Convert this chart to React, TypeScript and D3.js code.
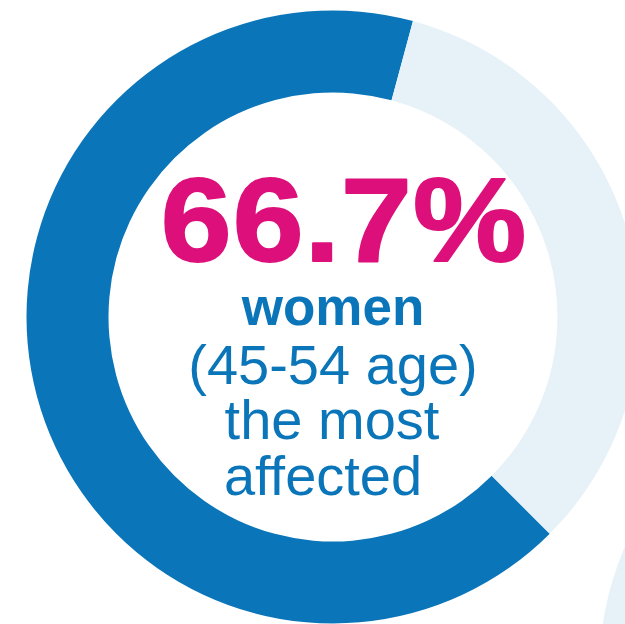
import React from "react";
import * as d3 from "d3";

const categories = ["women (45-54 age)", "others"];
const values = [66.7, 33.3];
const neighbourValues = [100];
const headline = "66.7%";
const lines = ["women", "(45-54 age)", "the most", "affected"];

const W = 625;
const H = 624;
const BLUE = "#0A75B9";
const LIGHT = "#E6F1F8";
const PINK = "#DD107B";

export default function App() {
  const cx = 333;
  const cy = 317;
  const outerR = 306.5;
  const innerR = 224.5;
  const start = (135 * Math.PI) / 180;

  const pie = d3
    .pie<number>()
    .sort(null)
    .value((d) => d)
    .startAngle(start)
    .endAngle(start + 2 * Math.PI);
  const arcs = pie(values);
  const arcGen = d3.arc<d3.PieArcDatum<number>>().innerRadius(innerR).outerRadius(outerR);
  const colors = d3.scaleOrdinal<string, string>().domain(categories).range([BLUE, LIGHT]);

  const neighbourArcs = d3.pie<number>().sort(null)(neighbourValues);

  const font = "'Liberation Sans', Arial, Helvetica, sans-serif";
  const lineX = [333, 333, 332, 323];
  const lineY = [325, 384, 438.5, 494.5];

  return (
    <svg width={W} height={H} style={{ position: "absolute", left: 0, top: 0 }}>
      <rect width={W} height={H} fill="#ffffff" />
      <g transform={`translate(906,669)`}>
        {neighbourArcs.map((a, i) => (
          <path key={i} d={arcGen(a) || ""} fill={LIGHT} />
        ))}
      </g>
      <g transform={`translate(${cx},${cy})`}>
        {arcs.map((a, i) => (
          <path key={i} d={arcGen(a) || ""} fill={colors(categories[i])} />
        ))}
      </g>
      <g transform="translate(344,261) scale(1.07,1)">
        <text
          x={0}
          y={0}
          textAnchor="middle"
          fontFamily={font}
          fontWeight="bold"
          fontSize={119}
          letterSpacing={1}
          fill={PINK}
          stroke={PINK}
          strokeWidth={2}
          strokeLinejoin="round"
        >
          {headline}
        </text>
      </g>
      {lines.map((t, i) => (
        <text
          key={i}
          x={lineX[i]}
          y={lineY[i]}
          textAnchor="middle"
          fontFamily={font}
          fontWeight={i === 0 ? "bold" : "normal"}
          fontSize={i === 0 ? 53 : 56}
          fill={BLUE}
        >
          {t}
        </text>
      ))}
    </svg>
  );
}
